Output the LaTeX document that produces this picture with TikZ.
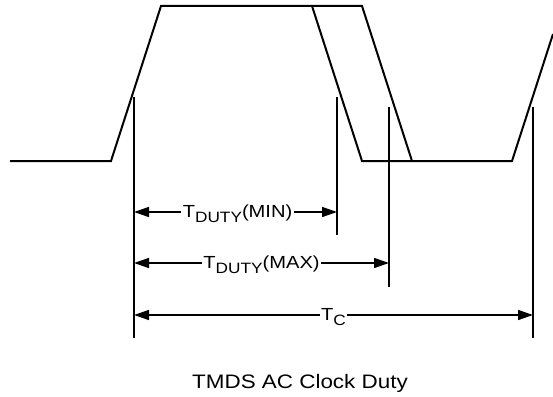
\documentclass[tikz,border=0pt]{standalone}
\usepackage{fontspec}
\setmainfont{Liberation Sans}[FakeStretch=1.15]
\usetikzlibrary{arrows.meta}

\newcommand{\lowsub}[1]{{\fontsize{15}{15}\selectfont\raisebox{-5pt}{#1}}}

\begin{document}
\begin{tikzpicture}[
  x=1pt, y=-1pt,
  wave/.style={line width=2pt, line join=miter},
  marker/.style={line width=1.5pt},
  dim/.style={{Triangle[length=15pt, width=10pt]}-{Triangle[length=15pt, width=10pt]}, line width=1.5pt},
  lbl/.style={fill=white, inner sep=1.5pt, yshift=-2pt, font=\fontsize{17.5}{17.5}\selectfont},
  caption/.style={anchor=base, font=\fontsize{19.5}{19.5}\selectfont}
]
\useasboundingbox (0,0) rectangle (553,396);

% Clock waveform
\coordinate (lo) at (10,161);
\coordinate (rise1b) at (111,161);
\coordinate (rise1t) at (161,6);
\coordinate (fallmin) at (312,6);
\coordinate (fallmax) at (362,6);
\coordinate (low1) at (362,161);
\coordinate (low2) at (412,161);
\coordinate (rise2b) at (512,161);
\coordinate (rise2t) at (553,34);

\draw[wave] (lo) -- (rise1b) -- (rise1t) -- (fallmax) -- (low2);
\draw[wave] (fallmin) -- (low1) -- (rise2b) -- (rise2t);

% Markers
\coordinate (m1t) at (134,97);
\coordinate (m1b) at (134,338);
\coordinate (m2t) at (337,97);
\coordinate (m2b) at (337,235);
\coordinate (m3t) at (389,107);
\coordinate (m3b) at (389,287);
\coordinate (m4t) at (533,107);
\coordinate (m4b) at (533,338);

\draw[marker] (m1t) -- (m1b);
\draw[marker] (m2t) -- (m2b);
\draw[marker] (m3t) -- (m3b);
\draw[marker] (m4t) -- (m4b);

% Dimensions
\coordinate (min_a) at (134,212);
\coordinate (min_b) at (337,212);
\coordinate (max_a) at (134,263);
\coordinate (max_b) at (389,263);
\coordinate (tc_a) at (134,315);
\coordinate (tc_b) at (533,315);

\draw[dim] (min_a) -- node[lbl, pos=0.51] (tmin) {T\lowsub{DUTY}(MIN)} (min_b);
\draw[dim] (max_a) -- node[lbl, pos=0.5] (tmax) {T\lowsub{DUTY}(MAX)} (max_b);
\draw[dim] (tc_a) -- node[lbl, pos=0.5] (tc) {T\lowsub{C}} (tc_b);

% Caption
\node[caption] (title) at (300,388) {TMDS AC Clock Duty};

\end{tikzpicture}
\end{document}
